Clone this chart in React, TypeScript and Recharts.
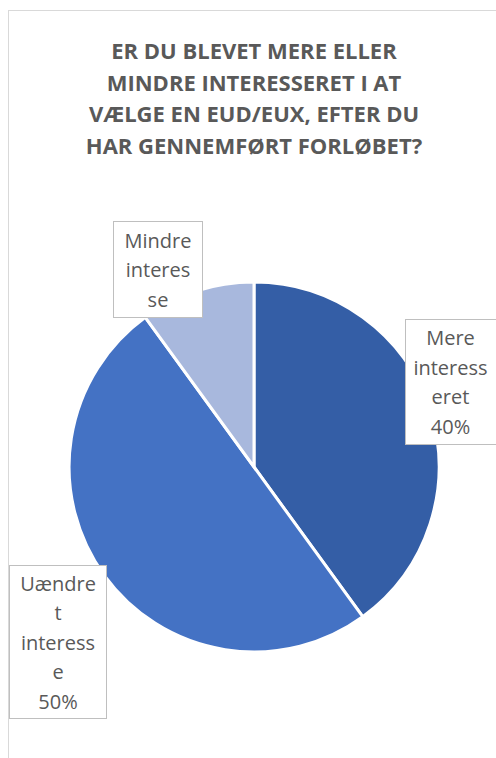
import { Cell, Pie, PieChart } from "recharts"

const CATEGORIES = ["Mere interesseret", "Uændret interesse", "Mindre interesse"]
const SHARES = [40, 50, 10]
// the label text as Excel wrapped it inside each box
const LABEL_LINES = [
  ["Mere", "interess", "eret"],
  ["Uændre", "t", "interess", "e"],
  ["Mindre", "interes", "se"],
]
const SHOW_PERCENT = [true, true, false]

const TITLE_LINES = [
  "ER DU BLEVET MERE ELLER",
  "MINDRE INTERESSERET I AT",
  "VÆLGE EN EUD/EUX, EFTER DU",
  "HAR GENNEMFØRT FORLØBET?",
]

const COLORS = ["#345EA6", "#4472C4", "#A8B8DD"]
const LABEL_BOXES = [
  { x: 405.5, y: 319.5, w: 100, h: 125 },
  { x: 9.5, y: 565.5, w: 97, h: 153 },
  { x: 113.5, y: 221.5, w: 89, h: 96 },
]

const data = CATEGORIES.map((name, i) => ({ name, value: SHARES[i] }))
const total = SHARES.reduce((a, b) => a + b, 0)

const FONT = "'Open Sans', Calibri, sans-serif"

function renderLabel(props: any) {
  const { index, value } = props
  const box = LABEL_BOXES[index]
  const lines = [...LABEL_LINES[index]]
  if (SHOW_PERCENT[index]) lines.push(`${Math.round((value / total) * 100)}%`)
  const lineH = 29.5
  const top = box.y + box.h / 2 - ((lines.length - 1) * lineH) / 2
  return (
    <g key={`lbl-${index}`}>
      <rect x={box.x} y={box.y} width={box.w} height={box.h} fill="#fff" stroke="#bfbfbf" strokeWidth={1} />
      {lines.map((t, j) => (
        <text
          key={j}
          x={box.x + (index === 0 ? 45 : box.w / 2)}
          y={top + j * lineH}
          textAnchor="middle"
          dominantBaseline="central"
          fill="#595959"
          fontSize={20}
          fontFamily={FONT}
        >
          {t}
        </text>
      ))}
    </g>
  )
}

export default function App() {
  return (
    <div style={{ position: "fixed", left: 0, top: 0, width: 496, height: 758, background: "#fff", overflow: "hidden" }}>
      <div
        style={{
          position: "absolute",
          left: 8,
          top: 10,
          width: 600,
          height: 800,
          border: "1px solid #d9d9d9",
          boxSizing: "border-box",
        }}
      />
      <div
        style={{
          position: "absolute",
          left: 0,
          top: 35,
          width: 508,
          textAlign: "center",
          fontFamily: FONT,
          fontWeight: 700,
          fontSize: 22,
          lineHeight: "31.7px",
          color: "#595959",
        }}
      >
        {TITLE_LINES.map((t) => (
          <div key={t}>{t}</div>
        ))}
      </div>
      <div style={{ position: "absolute", left: 0, top: 0 }}>
        <PieChart width={496} height={758} margin={{ top: 0, right: 0, bottom: 0, left: 0 }}>
          <Pie
            data={data}
            dataKey="value"
            nameKey="name"
            cx={254}
            cy={467}
            outerRadius={185}
            startAngle={90}
            endAngle={-270}
            stroke="#fff"
            strokeWidth={3}
            labelLine={false}
            label={renderLabel}
            isAnimationActive={false}
          >
            {data.map((d, i) => (
              <Cell key={d.name} fill={COLORS[i]} />
            ))}
          </Pie>
        </PieChart>
      </div>
    </div>
  )
}
